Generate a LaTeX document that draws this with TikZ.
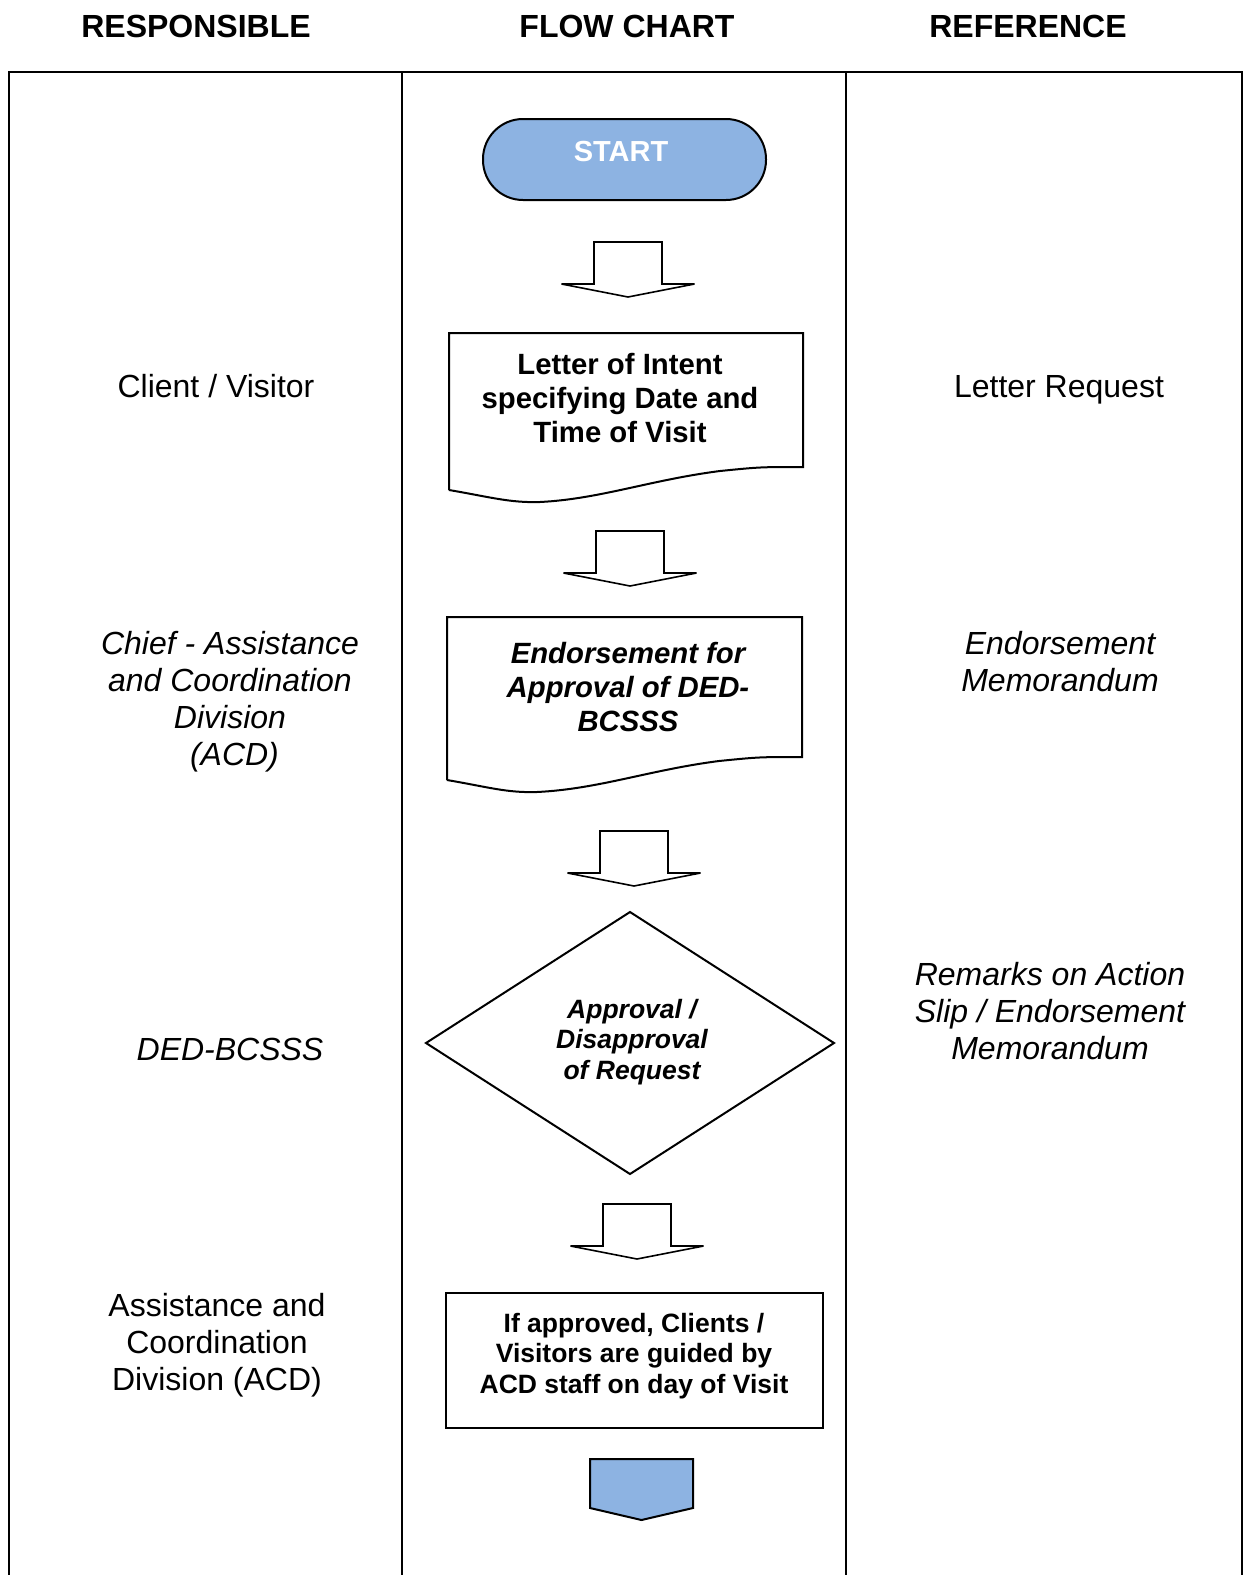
\documentclass[tikz,border=0pt]{standalone}
\usepackage{fontspec}
\setmainfont{Liberation Sans}
\usetikzlibrary{shapes.geometric}
\definecolor{startblue}{HTML}{8DB3E2}

\tikzset{
  rule/.style={line width=2pt},
  outline/.style={draw=black, line width=2pt, line join=miter},
  hdr/.style={font=\fontsize{32}{36}\selectfont\bfseries, inner sep=0pt},
  role/.style={font=\fontsize{32}{37}\selectfont, align=center, inner sep=0pt},
  roleit/.style={role, font=\fontsize{32}{37}\selectfont\itshape},
  boxtext/.style={font=\fontsize{29.3}{34}\selectfont\bfseries, align=center, inner sep=0pt},
  smalltext/.style={font=\fontsize{26.5}{30.5}\selectfont\bfseries, align=center, inner sep=0pt},
  % hollow down arrow: shaft 68 wide, head 133 wide and 14 deep
  downarrow/.pic={
    \draw[outline, line width=1.6pt]
      (-34,0) -- (34,0) -- (34,42) -- (66.5,42) -- (0,55) -- (-66.5,42) -- (-34,42) -- cycle;
  },
  % solid off-page connector
  offpage/.pic={
    \draw[outline, fill=startblue]
      (-51.5,0) -- (51.5,0) -- (51.5,49) -- (0,61) -- (-51.5,49) -- cycle;
  },
}

\begin{document}
\begin{tikzpicture}[x=1pt, y=-1pt]
\useasboundingbox (0,0) rectangle (1243,1575);

% column headings
\node[hdr] (hResp) at (196,26) {RESPONSIBLE};
\node[hdr] (hFlow) at (627,26) {FLOW CHART};
\node[hdr] (hRef)  at (1028,26) {REFERENCE};

% table frame
\draw[rule] (9,1576) -- (9,72) -- (1241.5,72) -- (1241.5,1576);
\draw[rule] (402,72) -- (402,1576);
\draw[rule] (846,72) -- (846,1576);

% start terminator
\node[outline, fill=startblue, minimum width=283pt, minimum height=81pt,
      rounded corners=40pt, inner sep=0pt] (start) at (624.5,159.5) {};
\node[font=\fontsize{29}{34}\selectfont\bfseries, text=white, inner sep=0pt]
      (startTxt) at (621,152) {START};

\pic at (628,242) {downarrow};

% letter of intent (document shape)
\draw[outline] (449,490) -- (449,333) -- (803,333) -- (803,467)
  .. controls (760,467) .. (720,471)
  .. controls (650,480) and (600,499) .. (540,502)
  .. controls (510,503) and (490,497) .. (449,490);
\node[boxtext] (letter) at (620,398) {Letter of Intent\\specifying Date and\\Time of Visit};

\pic at (630,531) {downarrow};

% endorsement (document shape)
\draw[outline] (447,780) -- (447,617) -- (802,617) -- (802,757)
  .. controls (759,757) .. (719,761)
  .. controls (649,770) and (599,789) .. (537,792)
  .. controls (507,793) and (488,787) .. (447,780);
\node[boxtext, font=\fontsize{29.3}{34}\selectfont\bfseries\itshape] (endorse) at (628,687)
  {Endorsement for\\Approval of DED-\\BCSSS};

\pic at (634,831) {downarrow};

% decision
\draw[outline] (630,912) -- (834,1043) -- (630,1174) -- (426,1043) -- cycle;
\node[smalltext, font=\fontsize{26.5}{30.5}\selectfont\bfseries\itshape] (decide) at (632,1042)
  {Approval /\\Disapproval\\of Request};

\pic at (637,1204) {downarrow};

% guided visit
\node[outline, minimum width=377pt, minimum height=135pt, inner sep=0pt] (guide) at (634.5,1360.5) {};
\node[smalltext] (guideTxt) at (634,1356) {If approved, Clients /\\Visitors are guided by\\ACD staff on day of Visit};

\pic at (641.5,1459) {offpage};

% responsible column
\node[role] (r1) at (216,386) {Client / Visitor};
\node[roleit] (r2) at (230,702) {Chief - Assistance\\and Coordination\\Division\\\ (ACD)};
\node[roleit] (r3) at (230,1049) {DED-BCSSS};
\node[role] (r4) at (217,1345) {Assistance and\\Coordination\\Division (ACD)};

% reference column
\node[role] (f1) at (1059,390) {Letter Request};
\node[roleit] (f2) at (1060,662) {Endorsement\\Memorandum};
\node[roleit] (f3) at (1050,1011) {Remarks on Action\\Slip / Endorsement\\Memorandum};

\end{tikzpicture}
\end{document}
